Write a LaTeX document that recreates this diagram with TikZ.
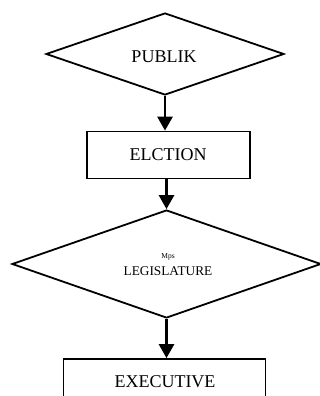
\documentclass[tikz,border=0pt]{standalone}
\usepackage{fontspec}
\setmainfont{Liberation Serif}
\usetikzlibrary{shapes.geometric,arrows.meta}
\tikzset{
  flowdiamond/.style={draw=black,shape=diamond,inner sep=0pt,line width=1.8pt},
  flowbox/.style={draw=black,shape=rectangle,inner sep=0pt,line width=1.8pt},
  flowarrow/.style={line width=2.8pt,-{Triangle[length=14pt,width=15pt]}},
  bigtext/.style={anchor=base,inner sep=0pt,font=\fontsize{18}{20}\selectfont},
  midtext/.style={anchor=base,inner sep=0pt,font=\fontsize{13.3}{15}\selectfont},
  smalltext/.style={anchor=base,inner sep=0pt,font=\fontsize{7.5}{8}\selectfont}
}
\begin{document}
\begin{tikzpicture}[x=1pt,y=-1pt]
\useasboundingbox (0,0) rectangle (320,396);
\clip (0,0) rectangle (320,396);
\node[flowdiamond,minimum width=238pt,minimum height=82pt] (d1) at (165,54) {};
\node[flowbox,minimum width=163pt,minimum height=47pt] (b1) at (168.5,155) {};
\node[flowdiamond,minimum width=309pt,minimum height=108pt] (d2) at (166.5,264) {};
\node[flowbox,minimum width=202pt,minimum height=60pt] (b2) at (164.5,389) {};
\node[bigtext] (t1) at (164,62.5) {PUBLIK};
\node[bigtext] (t2) at (168,160) {ELCTION};
\node[smalltext] (t3) at (168,258) {Mps};
\node[midtext] (t4) at (168,275) {LEGISLATURE};
\node[bigtext] (t5) at (165,387) {EXECUTIVE};
\draw[flowarrow] (d1.south) -- (d1.south |- b1.north);
\draw[flowarrow] (d2.north |- b1.south) -- (d2.north);
\draw[flowarrow] (d2.south) -- (d2.south |- b2.north);
\end{tikzpicture}
\end{document}
